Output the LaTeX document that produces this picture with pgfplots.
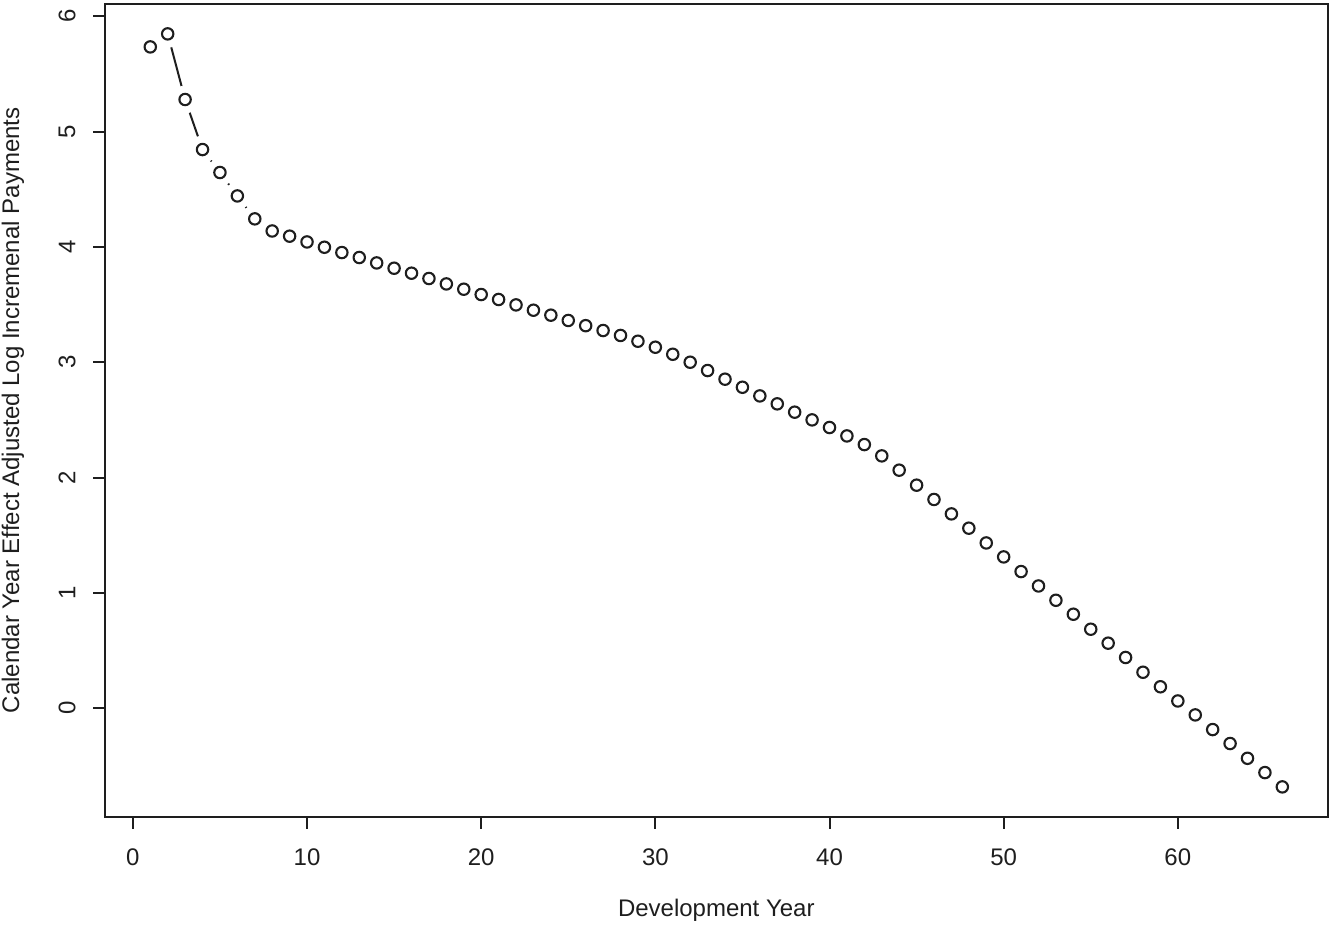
\documentclass[border=0pt]{standalone}
\usepackage{pgfplots}
\usepackage{pgfplotstable}
\pgfplotsset{compat=1.18}
\usepackage{fontspec}
\setmainfont{Liberation Sans}
\definecolor{ink}{HTML}{1E1E1E}
\pgfplotstableread{
x y
1 5.734
2 5.847
3 5.278
4 4.844
5 4.645
6 4.442
7 4.243
8 4.138
9 4.093
10 4.043
11 3.997
12 3.951
13 3.908
14 3.861
15 3.815
16 3.772
17 3.726
18 3.679
19 3.633
20 3.587
21 3.544
22 3.497
23 3.451
24 3.408
25 3.362
26 3.317
27 3.275
28 3.232
29 3.182
30 3.130
31 3.069
32 3.000
33 2.928
34 2.853
35 2.783
36 2.708
37 2.639
38 2.567
39 2.500
40 2.434
41 2.361
42 2.286
43 2.188
44 2.064
45 1.934
46 1.810
47 1.685
48 1.561
49 1.433
50 1.312
51 1.185
52 1.060
53 0.936
54 0.815
55 0.685
56 0.564
57 0.440
58 0.312
59 0.186
60 0.063
61 -0.058
62 -0.185
63 -0.306
64 -0.434
65 -0.558
66 -0.682
}\datatable
\begin{document}
\begin{tikzpicture}[x=1pt,y=1pt]
\useasboundingbox (0,0) rectangle (664.5,464.5);
\begin{axis}[
  at={(52.5pt,56pt)}, anchor=south west,
  scale only axis, width=611.3pt, height=406.6pt,
  xmin=-1.6, xmax=68.6, ymin=-0.943, ymax=6.108,
  axis line style={line width=1pt, color=ink},
  xtick={0,10,...,60}, ytick={0,1,...,6},
  xtick pos=bottom, ytick pos=left,
  tick align=outside, major tick length=6pt,
  tick style={line width=1pt, color=ink},
  /pgf/number format/assume math mode=true,
  ticklabel style={font=\fontsize{12}{14}\selectfont, text=ink},
  xticklabel style={anchor=center, yshift=-14pt},
  yticklabel style={anchor=center, xshift=-13pt, rotate=90},
  label style={font=\fontsize{12}{14}\selectfont, text=ink},
  xlabel={Development Year},
  ylabel={Calendar Year Effect Adjusted Log Incremenal Payments},
  xlabel style={at={(axis description cs:0.5,-0.1144)}, anchor=center},
  ylabel style={at={(axis description cs:-0.0753,0.5)}, anchor=center},
]
\addplot[line width=1pt, color=ink, no markers] table {\datatable};
\addplot[only marks, color=white, mark=*, mark size=6.75pt] table {\datatable};
\addplot[only marks, color=ink, mark=o, mark size=2.85pt, mark options={line width=1.05pt}] table {\datatable};
\end{axis}
\end{tikzpicture}
\end{document}
